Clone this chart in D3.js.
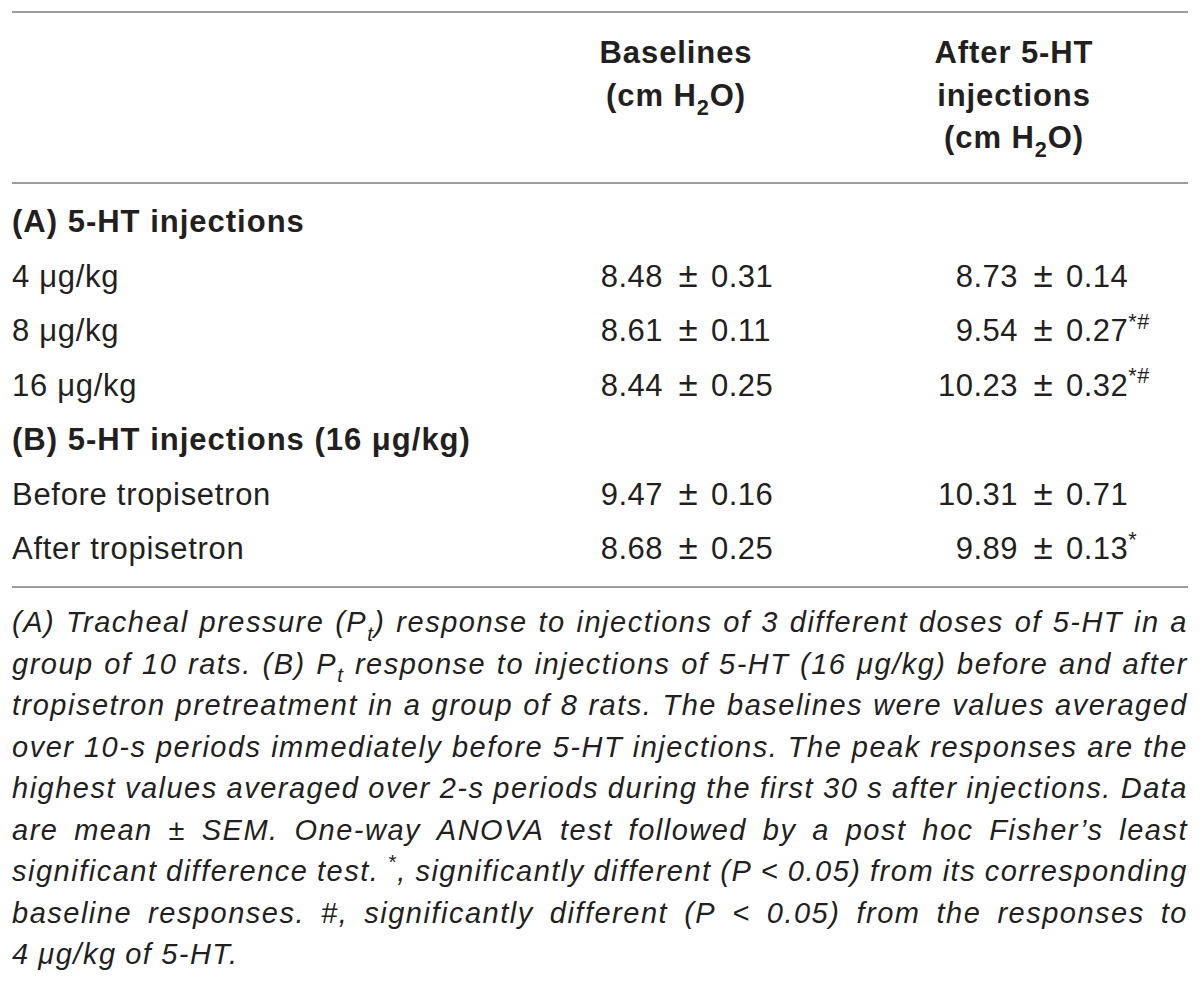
<!DOCTYPE html>
<html>
<head>
<meta charset="utf-8">
<script src="https://cdn.jsdelivr.net/npm/d3@7"></script>
<style>
    html, body { margin: 0; padding: 0; background: #fff; }
    svg text { font-family: "Liberation Sans", Arial, Helvetica, sans-serif; fill: #231f20; }
</style>
</head>
<body>
<div id="table-container"></div>
<script>
// ~x~ = subscript, ^x^ = superscript
const columnHeads = [
    ["Baselines", "(cm H~2~O)"],
    ["After 5-HT", "injections", "(cm H~2~O)"]
];
const groupLabels = ["(A) 5-HT injections", "(B) 5-HT injections (16 μg/kg)"];
const rowLabels = ["4 μg/kg", "8 μg/kg", "16 μg/kg", "Before tropisetron", "After tropisetron"];
const rowGroup = [0, 0, 0, 1, 1];
const baselineMean = [8.48, 8.61, 8.44, 9.47, 8.68];
const baselineSem = [0.31, 0.11, 0.25, 0.16, 0.25];
const afterMean = [8.73, 9.54, 10.23, 10.31, 9.89];
const afterSem = [0.14, 0.27, 0.32, 0.71, 0.13];
const afterMarks = ["", "*#", "*#", "", "*"];

const noteLines = [
    "(A) Tracheal pressure (P~t~) response to injections of 3 different doses of 5-HT in a",
    "group of 10 rats. (B) P~t~ response to injections of 5-HT (16 μg/kg) before and after",
    "tropisetron pretreatment in a group of 8 rats. The baselines were values averaged",
    "over 10-s periods immediately before 5-HT injections. The peak responses are the",
    "highest values averaged over 2-s periods during the first 30 s after injections. Data",
    "are mean ± SEM. One-way ANOVA test followed by a post hoc Fisher’s least",
    "significant difference test. ^*^, significantly different (P < 0.05) from its corresponding",
    "baseline responses. #, significantly different (P < 0.05) from the responses to",
    "4 μg/kg of 5-HT."
];

const width = 1200, height = 990;
const left = 12, right = 1188;
const bodySize = 31, noteSize = 29;

const svg = d3.select("#table-container")
    .append("svg")
    .attr("width", width)
    .attr("height", height);

// append text with sub/superscript markup as tspans
function rich(sel, str, size) {
    const parts = str.split(/(~[^~]*~|\^[^^]*\^)/).filter(s => s.length);
    let shift = 0;
    parts.forEach(p => {
        let target = 0, txt = p, fs = size;
        if (p[0] === "~") { target = 0.3; txt = p.slice(1, -1); fs = size * 0.7; }
        else if (p[0] === "^") { target = -0.4; txt = p.slice(1, -1); fs = size * 0.7; }
        sel.append("tspan")
            .attr("dy", (target - shift) * size)
            .style("font-size", fs + "px")
            .text(txt);
        shift = target;
    });
    return sel;
}

// horizontal rules
svg.selectAll(".rule")
    .data([12, 183, 587])
    .enter()
    .append("line")
    .attr("class", "rule")
    .attr("x1", left)
    .attr("x2", right)
    .attr("y1", d => d)
    .attr("y2", d => d)
    .attr("stroke", "#9d9d9d")
    .attr("stroke-width", 2);

// column positions (± sign centre) and header centres
const pmX = [688, 1043];
const headX = [676, 1014];
const headY = d3.scalePoint().domain([0, 1, 2]).range([63, 148]);

columnHeads.forEach((lines, c) => {
    lines.forEach((line, i) => {
        const t = svg.append("text")
            .attr("x", headX[c])
            .attr("y", headY(i))
            .attr("text-anchor", "middle")
            .style("font-size", bodySize + "px")
            .style("font-weight", "bold")
            .style("letter-spacing", "0.9px");
        rich(t, line, bodySize);
    });
});

// body rows: group titles + data rows
const order = [];
rowGroup.forEach((g, i) => {
    if (i === 0 || rowGroup[i - 1] !== g) order.push({ type: "group", label: groupLabels[g] });
    order.push({ type: "row", i: i });
});

const rowY = d3.scalePoint().domain(d3.range(order.length)).range([232, 559]);
const fmt = d3.format(".2f");

order.forEach((d, k) => {
    const y = rowY(k);
    if (d.type === "group") {
        svg.append("text")
            .attr("x", left)
            .attr("y", y)
            .style("font-size", bodySize + "px")
            .style("font-weight", "bold")
            .style("letter-spacing", "1px")
            .text(d.label);
        return;
    }
    const i = d.i;
    svg.append("text")
        .attr("x", left)
        .attr("y", y)
        .style("font-size", bodySize + "px")
        .style("letter-spacing", "0.7px")
        .text(rowLabels[i]);

    const cols = [
        { m: baselineMean[i], s: baselineSem[i], mark: "" },
        { m: afterMean[i], s: afterSem[i], mark: afterMarks[i] }
    ];
    cols.forEach((c, j) => {
        svg.append("text")
            .attr("x", pmX[j] - 25)
            .attr("y", y)
            .attr("text-anchor", "end")
            .style("font-size", bodySize + "px")
            .style("letter-spacing", "0.5px")
            .text(fmt(c.m));
        svg.append("text")
            .attr("x", pmX[j])
            .attr("y", y)
            .attr("text-anchor", "middle")
            .style("font-size", (bodySize + 4) + "px")
            .text("±");
        const st = svg.append("text")
            .attr("x", pmX[j] + 23)
            .attr("y", y)
            .style("font-size", bodySize + "px")
            .style("letter-spacing", "0.5px");
        rich(st, fmt(c.s) + (c.mark ? "^" + c.mark + "^" : ""), bodySize);
    });
});

// footnote, justified between left and right
const noteY = d3.scaleLinear().domain([0, noteLines.length - 1]).range([632, 964]);

noteLines.forEach((line, li) => {
    const words = line.split(" ");
    const nodes = words.map(w => {
        const t = svg.append("text")
            .attr("y", noteY(li))
            .style("font-size", noteSize + "px")
            .style("font-style", "italic")
            .style("letter-spacing", "1.5px");
        rich(t, w, noteSize);
        return t;
    });
    const widths = nodes.map(t => t.node().getComputedTextLength());
    const total = d3.sum(widths);
    const last = li === noteLines.length - 1;
    const gap = last || words.length < 2 ? noteSize * 0.3 : (right - left - total) / (words.length - 1);
    let x = left;
    nodes.forEach((t, k) => {
        t.attr("x", x);
        x += widths[k] + gap;
    });
});
</script>
</body>
</html>
